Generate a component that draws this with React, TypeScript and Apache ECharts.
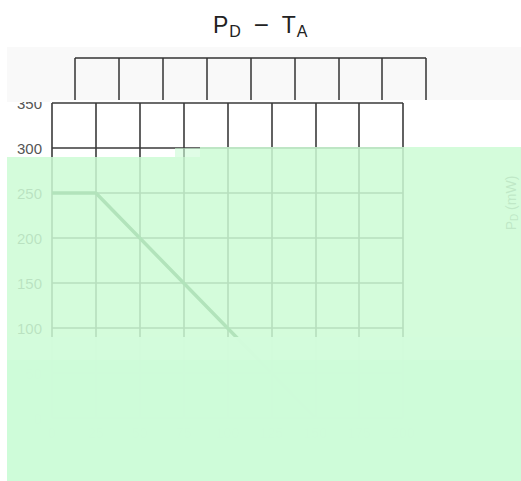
import React, { useEffect, useRef } from "react";
import * as echarts from "echarts";

// Data: ambient temperature (°C) vs. power dissipation (mW)
const tempC: number[] = [0, 25, 150];
const powerMW: number[] = [250, 250, 0];
const xTicks = { min: 0, max: 200, interval: 25 };
const yTicks = { min: 0, max: 350, interval: 50 };

export default function App() {
  const ref = useRef<HTMLDivElement>(null);
  useEffect(() => {
    if (!ref.current) return;
    const chart = echarts.init(ref.current, undefined, { renderer: "svg" });
    const points = tempC.map((t, i) => [t, powerMW[i]]);
    const ff = "Liberation Sans, Arial, sans-serif";
    const overlay = "rgba(204,252,213,0.85)";
    chart.setOption({
      animation: false,
      backgroundColor: "#ffffff",
      title: {
        text: "{p|P}{s|D}{p|  }{m|−}{p|  }{p|T}{s|A}",
        left: 208,
        top: 6,
        textStyle: {
          fontWeight: "normal",
          rich: {
            p: { fontSize: 23, color: "#222", fontFamily: ff, fontWeight: "normal", lineHeight: 28 },
            m: { fontSize: 26, color: "#222", fontFamily: ff, fontWeight: "normal", lineHeight: 28 },
            s: { fontSize: 16, color: "#222", fontFamily: ff, fontWeight: "normal", padding: [12, 0, 0, 1], lineHeight: 28 },
          },
        },
      },
      grid: [
        { left: 52, top: 103, width: 351, height: 315, containLabel: false },
        { left: 75, top: 58, width: 351, height: 42, containLabel: false },
      ],
      xAxis: [
        {
          type: "value",
          gridIndex: 0,
          min: xTicks.min,
          max: xTicks.max,
          interval: xTicks.interval,
          axisLine: { show: false },
          axisTick: { show: false },
          axisLabel: { color: "#555", fontSize: 14, fontFamily: ff },
          splitLine: { show: true, lineStyle: { color: "#3a3a3a", width: 1.6 } },
        },
        {
          type: "value",
          gridIndex: 1,
          z: 110,
          min: xTicks.min,
          max: xTicks.max,
          interval: xTicks.interval,
          axisLine: { show: false },
          axisTick: { show: false },
          axisLabel: { show: false },
          splitLine: { show: true, lineStyle: { color: "#333", width: 1.5 } },
        },
      ],
      yAxis: [
        {
          type: "value",
          gridIndex: 0,
          min: yTicks.min,
          max: yTicks.max,
          interval: yTicks.interval,
          axisLine: { show: false },
          axisTick: { show: false },
          axisLabel: { color: "#555", fontSize: 15, fontFamily: ff, margin: 10 },
          splitLine: { show: true, lineStyle: { color: "#3a3a3a", width: 1.6 } },
        },
        {
          type: "value",
          gridIndex: 1,
          z: 110,
          min: 0,
          max: 1,
          interval: 1,
          axisLine: { show: false },
          axisTick: { show: false },
          axisLabel: { show: false },
          splitLine: { show: true, lineStyle: { color: ["transparent", "#333"], width: 1.5 } },
        },
      ],
      series: [
        {
          type: "line",
          xAxisIndex: 0,
          yAxisIndex: 0,
          data: points,
          symbol: "none",
          lineStyle: { color: "#1d5a2a", width: 3.5 },
        },
      ],
      graphic: [
        {
          type: "text",
          z: 50,
          x: 519,
          y: 203,
          rotation: Math.PI / 2,
          style: {
            text: "P{s|D} (mW)",
            fill: "#777",
            fontSize: 14,
            fontFamily: ff,
            align: "center",
            verticalAlign: "bottom",
            rich: { s: { fontSize: 10, fill: "#777", fontFamily: ff, padding: [6, 0, 0, 0] } },
          },
        },
        {
          type: "rect",
          z: 100,
          shape: { x: 7, y: 47, width: 514, height: 53 },
          style: { fill: "#f9f9f9" },
        },
        {
          type: "rect",
          z: 100,
          shape: { x: 7, y: 100, width: 43, height: 2 },
          style: { fill: "#f9f9f9" },
        },
        {
          type: "rect",
          z: 100,
          shape: { x: 7, y: 157, width: 193, height: 180 },
          style: { fill: overlay },
        },
        {
          type: "rect",
          z: 100,
          shape: { x: 200, y: 147, width: 321, height: 190 },
          style: { fill: overlay },
        },
        {
          type: "rect",
          z: 100,
          shape: { x: 175, y: 148, width: 25, height: 9 },
          style: { fill: "rgba(204,252,213,0.6)" },
        },
        {
          type: "rect",
          z: 100,
          shape: { x: 7, y: 337, width: 514, height: 144 },
          style: { fill: "rgba(211,252,220,0.995)" },
        },
        {
          type: "rect",
          z: 101,
          shape: { x: 7, y: 360, width: 514, height: 121 },
          style: { fill: "rgba(204,251,215,0.6)" },
        },
      ],
    });
    return () => chart.dispose();
  }, []);
  return <div ref={ref} style={{ width: 521, height: 481, position: "absolute", left: 0, top: 0 }} />;
}
